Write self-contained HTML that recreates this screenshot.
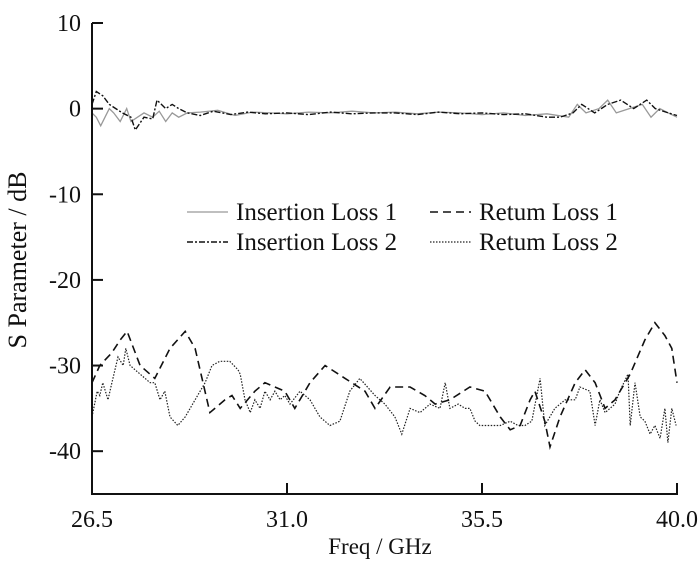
<!DOCTYPE html>
<html><head><meta charset="utf-8"><style>
html,body{margin:0;padding:0;background:#fff}
svg{display:block}
text{font-family:"Liberation Serif",serif;fill:#111}
</style></head><body>
<svg id="chart" width="700" height="572" xmlns="http://www.w3.org/2000/svg">
<g id="plot"></g>
<g id="axes"></g>
<g id="legend"></g>
<text x="0" y="0" font-size="26" text-anchor="middle" transform="translate(26,260) rotate(-90)">S Parameter / dB</text>
<text x="380" y="554" font-size="23" text-anchor="middle">Freq / GHz</text>
</svg>
<script>
const xTicks = [26.5, 31.0, 35.5, 40.0];
const xTickLabels = ["26.5", "31.0", "35.5", "40.0"];
const yTicks = [10, 0, -10, -20, -30, -40];
const yTickLabels = ["10", "0", "-10", "-20", "-30", "-40"];

const il1Freq = [26.5,26.6,26.7,26.8,26.9,27.0,27.15,27.3,27.4,27.55,27.7,27.9,28.05,28.2,28.35,28.5,28.7,29.0,29.4,29.8,30.2,30.6,31.0,31.5,32.0,32.5,33.0,33.5,34.0,34.5,35.0,35.5,36.0,36.5,37.0,37.5,37.7,37.9,38.2,38.4,38.6,38.9,39.2,39.4,39.6,39.8,40.0];
const il1Vals = [-0.5,-1,-2,-1,0,-0.5,-1.5,0,-1.5,-1,-0.5,-1,-0.3,-1.5,-0.5,-1,-0.5,-0.4,-0.2,-0.8,-0.4,-0.5,-0.6,-0.4,-0.5,-0.3,-0.5,-0.4,-0.6,-0.4,-0.5,-0.7,-0.5,-0.8,-0.6,-1,0.5,-0.5,0,1,-0.5,0,0.5,-1,0,-0.5,-1];
const il2Freq = [26.5,26.6,26.75,26.9,27.05,27.2,27.4,27.5,27.7,27.9,28.0,28.2,28.35,28.5,28.7,29.0,29.3,29.7,30.1,30.5,31.0,31.5,32.0,32.5,33.0,33.5,34.0,34.5,35.0,35.5,36.0,36.5,37.0,37.3,37.6,37.8,38.1,38.4,38.7,39.0,39.3,39.5,39.8,40.0];
const il2Vals = [0.5,2,1.5,0.5,0,-0.5,-1,-2.5,-1,-1.2,1,0,0.5,0,-0.5,-0.8,-0.3,-0.7,-0.4,-0.6,-0.5,-0.7,-0.4,-0.6,-0.5,-0.5,-0.7,-0.4,-0.6,-0.5,-0.7,-0.6,-1,-1,-0.5,0.5,-0.5,0.5,1,0,1,0,-0.5,-0.8];
const rl1Freq = [26.5,26.68,26.96,27.15,27.31,27.61,27.95,28.30,28.65,28.88,29.22,29.57,29.73,29.92,30.26,30.49,30.95,31.18,31.53,31.88,32.34,32.80,33.03,33.38,33.84,34.18,34.42,34.76,35.22,35.57,35.92,36.15,36.38,36.61,36.72,36.95,37.07,37.30,37.65,37.88,38.11,38.34,38.57,38.92,39.26,39.49,39.72,39.88,40.0];
const rl1Vals = [-32,-30,-28.5,-27,-26,-30,-31.5,-28,-26,-28,-35.5,-34,-33.5,-35,-33,-32,-33,-35,-32,-30,-31.5,-33,-35,-32.5,-32.5,-33.5,-34.5,-34,-32.5,-33,-36,-37.5,-37,-34,-33,-36.5,-39.5,-36,-32,-30.5,-32,-35,-34,-31,-27,-25,-26.5,-28,-32];
const rl2Freq = [26.5,26.62,26.68,26.75,26.87,26.96,27.10,27.22,27.28,27.38,27.61,27.84,27.95,28.07,28.18,28.30,28.48,28.65,28.88,29.11,29.27,29.45,29.68,29.87,29.92,30.03,30.15,30.26,30.38,30.49,30.61,30.72,30.84,30.95,31.07,31.30,31.53,31.76,31.99,32.22,32.45,32.68,33.03,33.26,33.49,33.65,33.84,34.07,34.30,34.53,34.65,34.76,34.95,35.11,35.22,35.34,35.45,35.68,35.92,36.15,36.33,36.49,36.65,36.84,36.95,37.18,37.42,37.65,37.76,37.99,38.11,38.22,38.34,38.57,38.68,38.87,38.92,39.03,39.15,39.26,39.38,39.49,39.61,39.72,39.79,39.88,39.98];
const rl2Vals = [-36,-33,-33.5,-32,-34,-32,-29,-30,-28,-30,-31,-32,-32,-34,-33,-36,-37,-36,-34,-32,-30,-29.5,-29.5,-30.5,-31,-34,-35.5,-34,-35,-33,-34,-33,-34,-33.5,-34.5,-33,-34,-36,-37,-36.5,-33,-31.5,-33.5,-34.5,-36,-38,-35,-35.5,-34.5,-35,-32,-35,-34.5,-35,-35,-36.5,-37,-37,-37,-36.5,-37,-37,-36.5,-31.5,-37,-35,-34,-34,-32.5,-33,-37,-34,-35.5,-34.5,-33,-31,-37,-32,-36,-36.5,-38,-37,-38.5,-35,-39,-35,-37];

const X0 = 92, X1 = 677, Y0 = 23, Y1 = 494;
const xMin = 26.5, xMax = 40.0, yMin = -45, yMax = 10;
function xs(v){ return X0 + (v - xMin) / (xMax - xMin) * (X1 - X0); }
function ys(v){ return Y0 + (yMax - v) / (yMax - yMin) * (Y1 - Y0); }
const NS = "http://www.w3.org/2000/svg";
function mk(tag, attrs, parent){ const e = document.createElementNS(NS, tag); for (const k in attrs) e.setAttribute(k, attrs[k]); parent.appendChild(e); return e; }

const plot = document.getElementById('plot');
const axes = document.getElementById('axes');
const legend = document.getElementById('legend');

function series(fr, vals, style, name){
  const d = fr.map((f,i)=> (i?'L':'M') + xs(f).toFixed(1) + ' ' + ys(vals[i]).toFixed(1)).join(' ');
  const p = mk('path', Object.assign({d: d, fill: 'none'}, style), plot);
  
  
}
const sIL1 = {stroke:'#999', 'stroke-width':1.3};
const sIL2 = {stroke:'#111', 'stroke-width':1.4, 'stroke-dasharray':'6 2 2 2'};
const sRL1 = {stroke:'#111', 'stroke-width':1.6, 'stroke-dasharray':'8 5'};
const sRL2 = {stroke:'#222', 'stroke-width':1.2, 'stroke-dasharray':'1.5 1.5'};
series(rl2Freq, rl2Vals, sRL2, 'return-loss-2-line');
series(rl1Freq, rl1Vals, sRL1, 'return-loss-1-line');
series(il1Freq, il1Vals, sIL1, 'insertion-loss-1-line');
series(il2Freq, il2Vals, sIL2, 'insertion-loss-2-line');

const ya = mk('line', {x1:X0, y1:Y0, x2:X0, y2:Y1, stroke:'#111', 'stroke-width':2}, axes);


const xa = mk('line', {x1:X0-1, y1:Y1, x2:X1+1, y2:Y1, stroke:'#111', 'stroke-width':2}, axes);


yTicks.forEach((v,i)=>{
  const t = mk('line', {x1:X0, y1:ys(v), x2:X0+11, y2:ys(v), stroke:'#111', 'stroke-width':2}, axes);
  
  
  const l = mk('text', {x:X0-11, y:ys(v)+8, 'font-size':24, 'text-anchor':'end'}, axes);
  l.textContent = yTickLabels[i];
  
  
});
xTicks.forEach((v,i)=>{
  if (i > 0) {
    const t = mk('line', {x1:xs(v), y1:Y1, x2:xs(v), y2:Y1-11, stroke:'#111', 'stroke-width':2}, axes);
    
    
  }
  const l = mk('text', {x:xs(v), y:Y1+33, 'font-size':24, 'text-anchor':'middle'}, axes);
  l.textContent = xTickLabels[i];
  
  
});

const legendNames = ['Insertion Loss 1','Retum Loss 1','Insertion Loss 2','Retum Loss 2'];
const legendStyles = [sIL1, sRL1, sIL2, sRL2];
const legendPos = [[187,212],[430,212],[187,242],[430,242]];
legendNames.forEach((n,i)=>{
  const [lx, ly] = legendPos[i];
  const g = mk('g', {}, legend);
  
  
  mk('line', Object.assign({x1:lx, y1:ly, x2:lx+41, y2:ly}, legendStyles[i]), g);
  const t = mk('text', {x:lx+49, y:ly+8, 'font-size':25}, g);
  t.textContent = n;
});
</script>
</body></html>
